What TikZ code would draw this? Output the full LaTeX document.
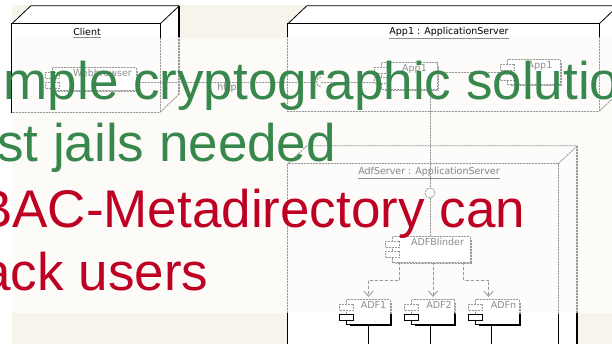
\documentclass[tikz,border=0pt]{standalone}
\usepackage{fontspec}
\setmainfont{Liberation Sans}
\newfontfamily\umlfont{DejaVu Sans}
\usetikzlibrary{arrows.meta}
\definecolor{beige}{RGB}{247,244,236}
\definecolor{veil}{RGB}{253,252,250}
\definecolor{slidegreen}{RGB}{56,135,76}
\definecolor{slidered}{RGB}{190,0,35}

% 3D UML node: name, centre, width, height, title position, title
\newcommand\umlnode[6]{%
  \node[box, minimum width=#3pt, minimum height=#4pt] (#1) at (#2) {};
  \path[face] (#1.north west) -- ++(19,-18) -- ++(#3,0) -- ++(0,#4) -- (#1.south east) -- (#1.north east) -- cycle;
  \draw[dl] (#1.north west) rectangle (#1.south east);
  \draw[dl] (#1.north west) -- ++(19,-18) -- ++(#3,0);
  \draw[dl] (#1.north east) -- ++(19,-18);
  \draw[dlthick] (#1.north east) ++(19,-18) -- ++(0,#4);
  \draw[dl] (#1.south east) -- ++(19,-18);
  \node[ttl] (#1t) at (#5) {\underline{#6}};
}
% UML component: name, centre, width, height, label, label shift
\newcommand\umlcomp[6]{%
  \node[comp, minimum width=#3pt, minimum height=#4pt] (#1) at (#2) {};
  \draw[shline] ([xshift=1.5pt,yshift=-3pt]#1.north east) |- ([xshift=3pt,yshift=-1.5pt]#1.south west);
  \draw[dl] (#1.north west) rectangle (#1.south east);
  \node[sr, anchor=north] (#1a) at ([yshift=-4pt]#1.north west) {};
  \node[sr, anchor=north] (#1b) at ([yshift=-14pt]#1.north west) {};
  \node[clbl, anchor=north] (#1l) at ([xshift=#6pt,yshift=-1.5pt]#1.north) {#5};
}
\newcommand\umldraw{%
  \umlnode{client}{86,68}{148}{88}{87,33}{Client}
  \umlnode{app}{443.5,67.5}{311}{87}{449,33}{App1 : ApplicationServer}
  \umlnode{adfs}{423,292}{270}{256}{429,173}{AdfServer : ApplicationServer}
  \umlcomp{web}{94.5,79}{83}{22}{Webbrowser}{8}
  \umlcomp{apl}{409.5,76}{55}{26}{App1}{5}
  \umlcomp{apr}{534,72}{52}{24}{App1}{6}
  \umlcomp{blinder}{431.5,249.5}{77}{25}{ADFBlinder}{6}
  \umlcomp{adfa}{368.5,312}{43}{24}{ADF1}{5}
  \umlcomp{adfb}{433,312}{42}{24}{ADF2}{6}
  \umlcomp{adfc}{497.5,312}{43}{24}{ADFn}{6}
  \coordinate (httpend) at (316,82);
  \coordinate (sock) at (321,82);
  \draw[dl] (web.east |- httpend) -- (httpend);
  \node[clbl] (httpl) at (227,88) {http};
  \draw[dl] ([yshift=5pt]sock) .. controls ([shift={(-6,-5)}]sock) and ([shift={(-6,5)}]sock) .. ([yshift=-5pt]sock);
  \draw[dl] (sock) -- (sock -| aplb.west);
  \draw[dl] (apl.east |- apr.west) -- ([xshift=-7pt]apr.west);
  \node[lolli] (ball) at (430,193) {};
  \draw[dl] (apl.south -| ball) -- (ball.north);
  \draw[dl] (ball.south) -- (ball.south |- blinder.north);
  \draw[arr] ([xshift=-32pt]blinder.south) -- ++(0,18) -| ([yshift=3pt]adfa.north);
  \draw[arr] (blinder.south -| adfb.north) -- ([yshift=3pt]adfb.north);
  \draw[arr] ([xshift=32pt]blinder.south) -- ++(0,18) -| ([xshift=-9pt,yshift=3pt]adfc.north);
  \draw[dl] ([yshift=-2pt]adfa.south) -- ++(0,30);
  \draw[dl] ([xshift=-3pt,yshift=-2pt]adfb.south) -- ++(0,30);
  \draw[dl] ([xshift=-6.5pt,yshift=-2pt]adfc.south) -- ++(0,30);
}

\begin{document}
\begin{tikzpicture}[x=1pt,y=-1pt,
  box/.style={rectangle, fill=white, inner sep=0},
  face/.style={fill=white},
  dl/.style={draw=black, line width=0.8pt},
  dlthick/.style={draw=black, line width=1.8pt},
  shline/.style={draw=black, line width=1.5pt},
  comp/.style={rectangle, fill=white, inner sep=0},
  sr/.style={rectangle, draw=black, line width=1pt, fill=white, minimum width=14pt, minimum height=6pt, inner sep=0},
  ttl/.style={font=\umlfont\fontsize{9.5}{11}\selectfont, text=black, inner sep=0.5pt},
  clbl/.style={font=\umlfont\fontsize{9.5}{11}\selectfont, text=black, inner sep=0},
  lolli/.style={circle, draw=black, line width=0.8pt, fill=white, minimum size=10pt, inner sep=0},
  arr/.style={draw=black, line width=0.8pt, dashed, -{Straight Barb[length=5pt,width=9pt]}},
  slide/.style={anchor=base west, inner sep=0, font=\fontsize{53}{60}\selectfont}]
\clip (0,0) rectangle (612,344);
\fill[white] (0,0) rectangle (612,344);
\fill[beige] (12,5) rectangle (612,344);
\umldraw
\fill[veil, opacity=0.92] (12,38) rectangle (612,313);
\begin{scope}
  \clip (12,38) rectangle (612,313);
  \begin{scope}[
    box/.style={rectangle, inner sep=0},
    face/.style={},
    dl/.style={draw=black!40, line width=0.8pt, dash pattern=on 2pt off 1pt},
    dlthick/.style={draw=black!40, line width=1.6pt, dash pattern=on 2pt off 1pt},
    shline/.style={draw=black!40, line width=1.5pt, dash pattern=on 2pt off 1pt},
    sr/.style={rectangle, draw=black!40, line width=0.8pt, dash pattern=on 2pt off 1pt, fill=white, minimum width=14pt, minimum height=6pt, inner sep=0},
    ttl/.style={font=\umlfont\fontsize{9.5}{11}\selectfont, text=black!45, inner sep=0.5pt},
    clbl/.style={font=\umlfont\fontsize{9.5}{11}\selectfont, text=black!45, inner sep=0},
    lolli/.style={circle, draw=black!40, line width=0.8pt, dash pattern=on 2pt off 1pt, fill=white, minimum size=10pt, inner sep=0},
    arr/.style={draw=black!40, line width=0.8pt, dash pattern=on 3pt off 2pt, -{Straight Barb[length=5pt,width=9pt]}}]
    \umldraw
  \end{scope}
\end{scope}
\node[slide, text=slidegreen] (l1) at (3.5,100) {mple cryptographic solutio};
\node[slide, text=slidegreen] (l2) at (-3,162) {st jails needed};
\node[slide, text=slidered] (l3) at (-23,228) {BAC-Metadirectory can};
\node[slide, text=slidered] (l4) at (-18.7,290) {ack users};
\end{tikzpicture}
\end{document}
